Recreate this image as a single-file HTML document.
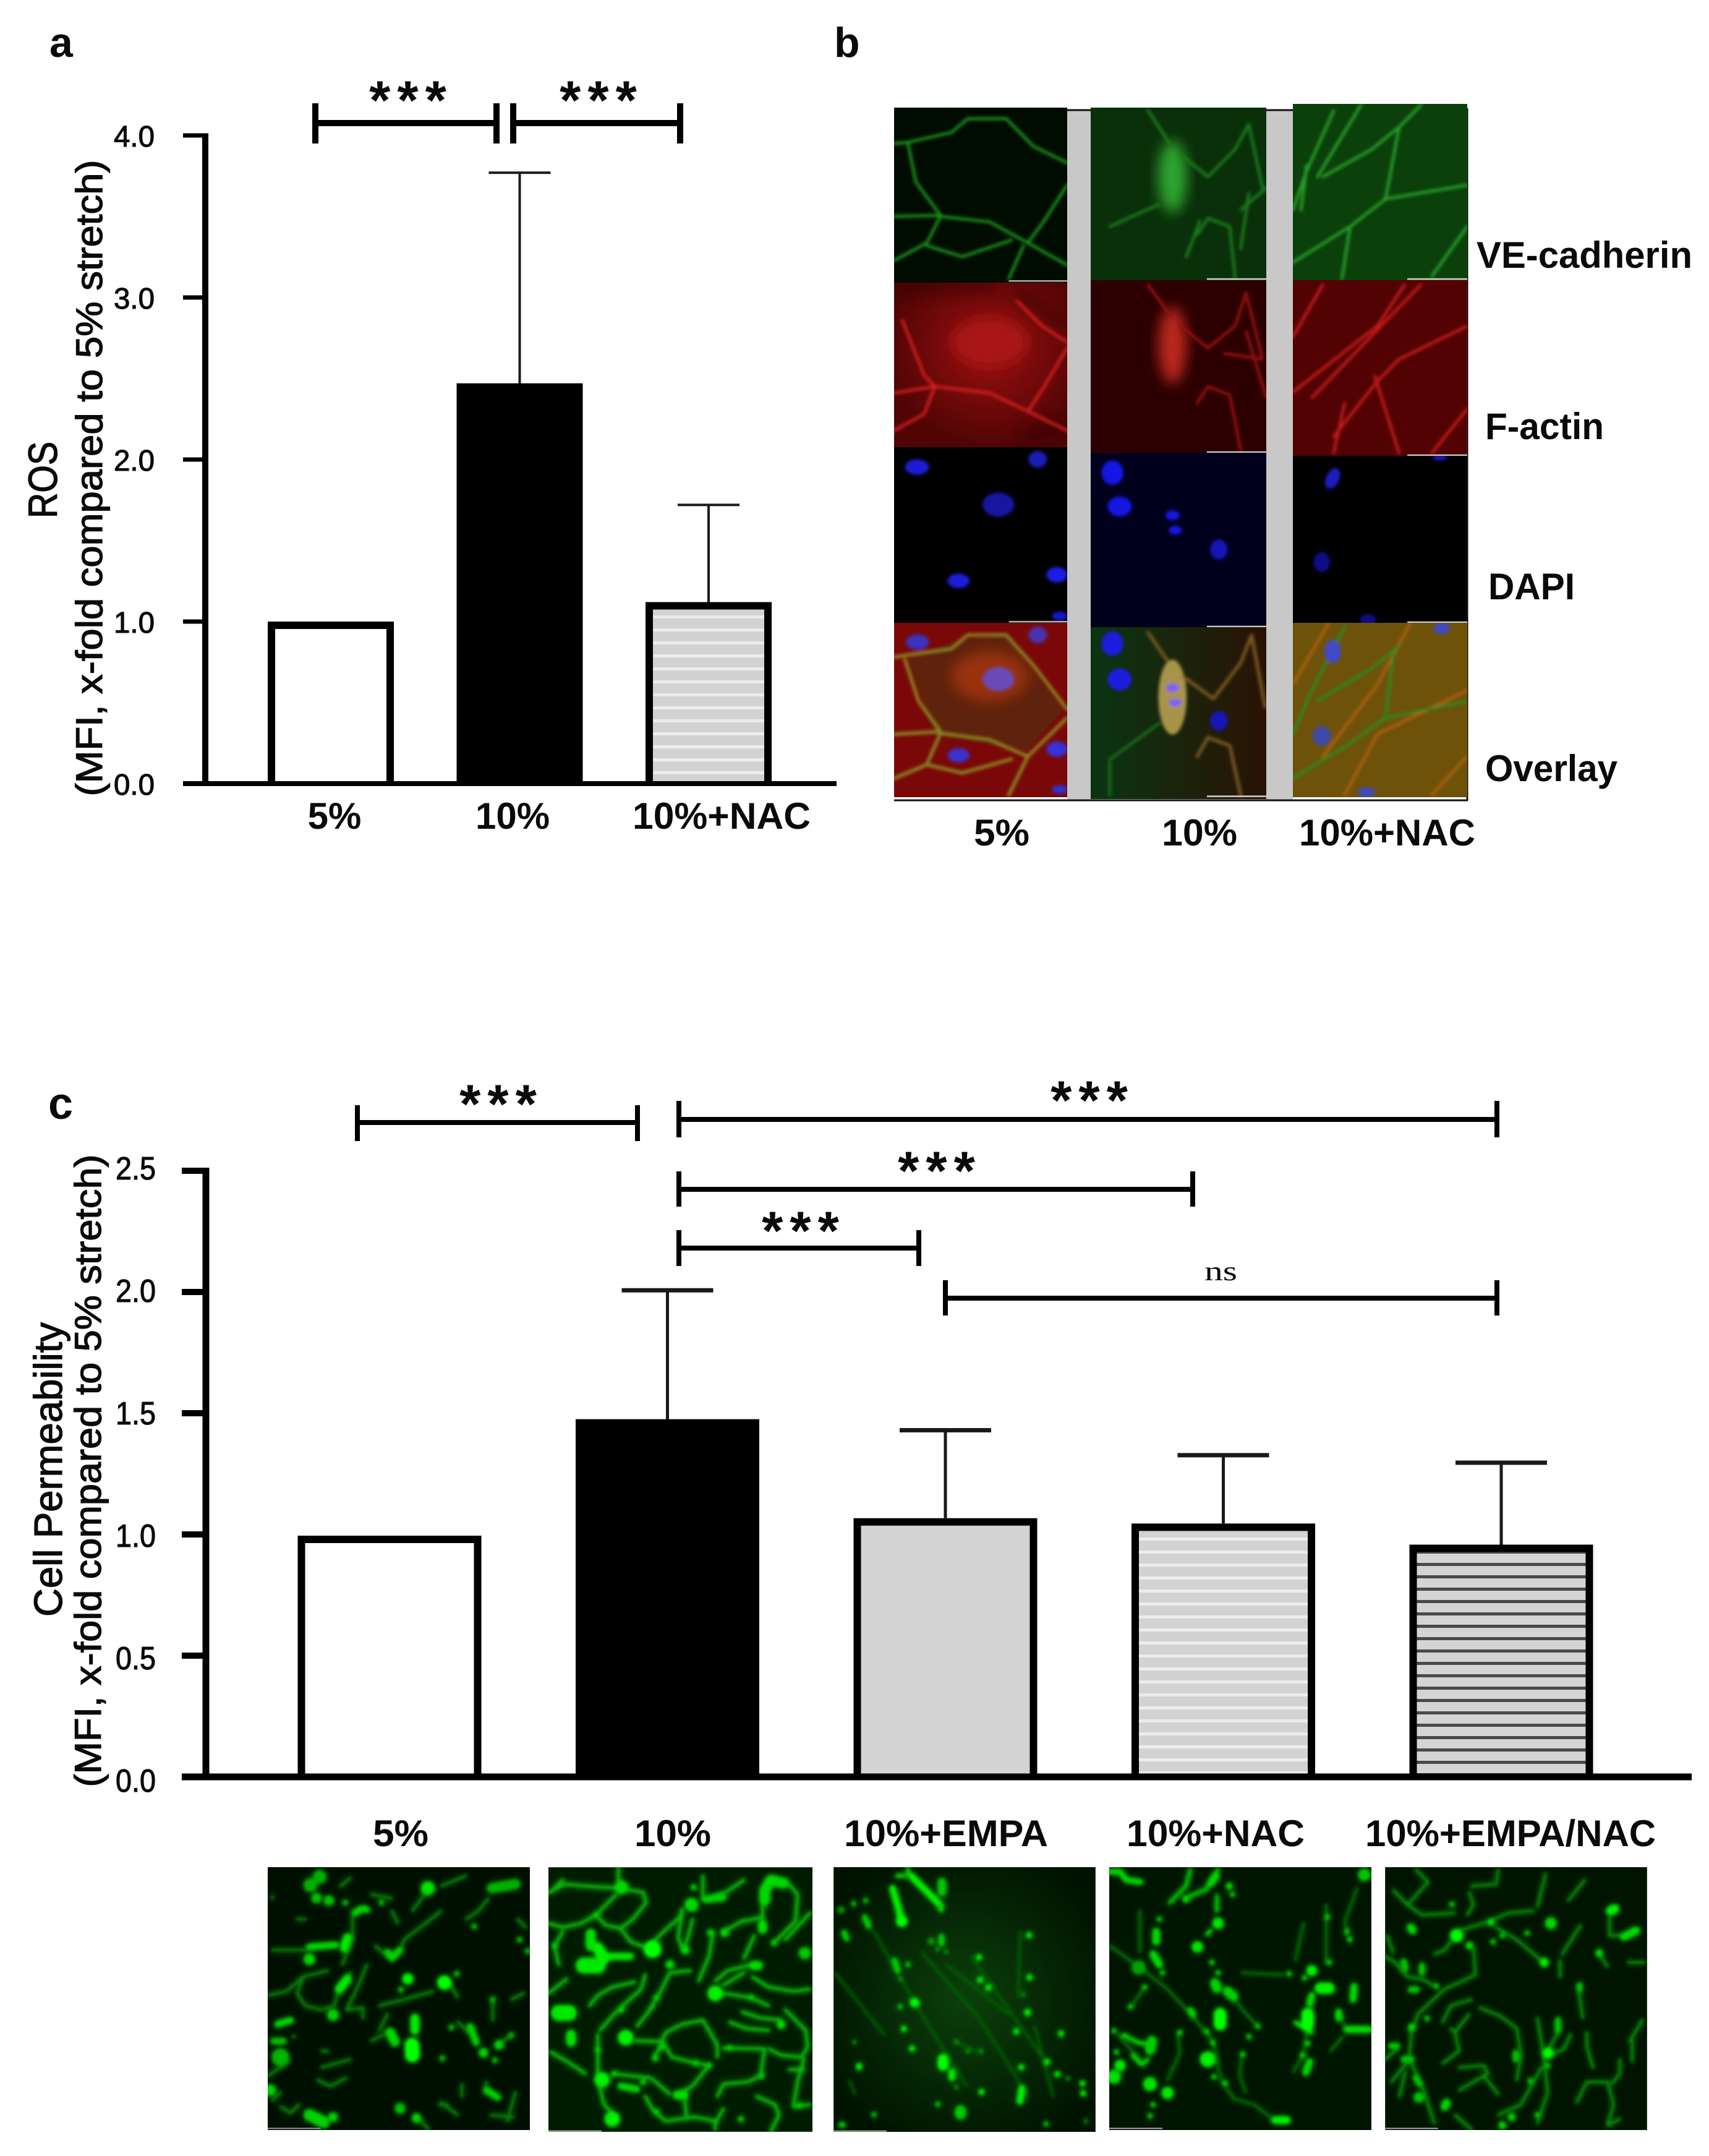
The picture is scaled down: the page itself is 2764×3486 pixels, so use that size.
<!DOCTYPE html>
<html lang="en">
<head>
<meta charset="utf-8">
<title>ROS, junction staining and cell permeability figure</title>
<style>
html,body{margin:0;padding:0;background:#fff;width:2764px;height:3486px;overflow:hidden}
svg text{font-family:"Liberation Sans",sans-serif;fill:#0a0a0a}
.b{font-weight:bold;font-size:60px}
.tick{font-size:50px;stroke:#0a0a0a;stroke-width:1.1}
.ttl{font-size:60px;stroke:#0a0a0a;stroke-width:1.3}
.star{font-weight:bold;font-size:88px;letter-spacing:11px}
.bl{fill:none;stroke:#000;stroke-linecap:round;stroke-linejoin:round}
g.m path{fill:none;stroke-linecap:round;stroke-linejoin:round}
</style>
</head>
<body>
<svg id="fig" xmlns="http://www.w3.org/2000/svg" width="2764" height="3486" viewBox="0 0 2764 3486" style="position:absolute;left:0;top:0">
<defs>
<pattern id="lightStripes" patternUnits="userSpaceOnUse" width="10" height="21"><rect width="10" height="21" fill="#d2d2d2"/><rect y="8" width="10" height="5" fill="#ececec"/></pattern>
<pattern id="darkStripes" patternUnits="userSpaceOnUse" width="10" height="20"><rect width="10" height="20" fill="#d4d4d4"/><rect y="7" width="10" height="5" fill="#4a4a4a"/></pattern>
<filter id="blur" x="-5%" y="-5%" width="110%" height="110%"><feGaussianBlur in="SourceGraphic" stdDeviation="15" result="g"/><feGaussianBlur in="SourceGraphic" stdDeviation="8" result="c"/><feMerge><feMergeNode in="g"/><feMergeNode in="c"/></feMerge></filter>
<filter id="blurL" x="-30%" y="-30%" width="160%" height="160%"><feGaussianBlur stdDeviation="12"/></filter>
<filter id="blurS" x="-5%" y="-5%" width="110%" height="110%"><feGaussianBlur stdDeviation="3"/></filter>
<radialGradient id="g3bg" cx="50%" cy="50%" r="60%"><stop offset="0" stop-color="#0b3f0b"/><stop offset="1" stop-color="#001300"/></radialGradient>
<radialGradient id="a1bg" cx="55%" cy="40%" r="60%"><stop offset="0" stop-color="#9c1010"/><stop offset="1" stop-color="#500404"/></radialGradient>
<linearGradient id="o2bg" x1="0" x2="1"><stop offset="0" stop-color="#0a3512"/><stop offset="1" stop-color="#2a1204"/></linearGradient>
</defs>

<!-- panel letters -->
<text class="b" style="font-size:68px" x="80" y="92">a</text>
<text class="b" style="font-size:68px" x="1349" y="92">b</text>
<text class="b" style="font-size:72px" x="78" y="1809">c</text>

<!-- panel a titles -->
<text class="ttl" style="font-size:66px" transform="rotate(-90 92 776)" x="92" y="776" text-anchor="middle" textLength="124" lengthAdjust="spacingAndGlyphs">ROS</text>
<text class="ttl" transform="rotate(-90 165 773)" x="165" y="773" text-anchor="middle" textLength="1029" lengthAdjust="spacingAndGlyphs">(MFI, x-fold compared to 5% stretch)</text>
<g id="chartA"></g>
<text class="b" x="541" y="1340" text-anchor="middle">5%</text>
<text class="b" x="829" y="1340" text-anchor="middle">10%</text>
<text class="b" x="1167" y="1340" text-anchor="middle" textLength="288" lengthAdjust="spacingAndGlyphs">10%+NAC</text>

<!-- panel a significance -->
<g>
<path class="bl" style="stroke-linecap:butt" stroke-width="10" d="M510 167V232M803 167V232M510 199H803"/>
<text class="star" x="665" y="192" text-anchor="middle">***</text></g>
<g>
<path class="bl" style="stroke-linecap:butt" stroke-width="10" d="M830 167V232M1100 167V232M830 199H1100"/>
<text class="star" x="973" y="192" text-anchor="middle">***</text></g>

<!-- panel b -->
<g id="panelB">
<rect x="1726" y="179" width="38" height="1114" fill="#c8c8c8"/>
<rect x="2048" y="179" width="43" height="1114" fill="#c8c8c8"/>
<path d="M1726 178H1764M2048 178H2091M1446 1294H2374M2373 175V1294" stroke="#111" stroke-width="3" fill="none"/>

<!-- column 1 -->
<svg x="1446" y="174" width="280" height="283" viewBox="75 195 317 317" preserveAspectRatio="none">
<rect x="75" y="195" width="317" height="317" fill="#010c01"/>
<g class="m" filter="url(#blurS)"><path stroke="#1f9a1f" stroke-width="5" d="M75 260L100 258L180 240L210 215L280 215L330 265L392 295M100 258L115 330L160 390L75 392M160 392L250 402L320 440L392 480M320 440L350 400L392 335M160 392L135 440L75 472M135 445L200 465L290 435M312 445L285 505"/></g>
<path d="M285 509H392" stroke="#aaa" stroke-width="3"/></svg>

<svg x="1446" y="457" width="280" height="266" viewBox="75 512 317 298" preserveAspectRatio="none">
<rect x="75" y="512" width="317" height="298" fill="url(#a1bg)"/>
<path fill="none" stroke="#2a0202" stroke-width="14" opacity=".7" filter="url(#blurL)" d="M300 530L392 590M310 790L392 770M75 520H260"/>
<ellipse cx="250" cy="620" rx="70" ry="45" fill="#a81212" filter="url(#blurL)"/>
<g class="m" filter="url(#blurS)"><path stroke="#d82020" stroke-width="5" d="M90 580L130 680L150 700L75 712M150 700L250 712L320 745L392 780M320 745L350 700L392 630M150 700L130 750L75 780M300 545L345 590L392 620"/></g></svg>

<svg x="1446" y="723" width="280" height="284" viewBox="75 810 317 318" preserveAspectRatio="none">
<rect x="75" y="810" width="317" height="318" fill="#000"/>
<g filter="url(#blurS)"><ellipse cx="117" cy="846" rx="22" ry="14" fill="#1c1cd8"/><ellipse cx="338" cy="832" rx="17" ry="15" fill="#1a1ab8"/><ellipse cx="266" cy="914" rx="29" ry="22" fill="#1616a0"/><ellipse cx="193" cy="1052" rx="20" ry="13" fill="#1c1ce0"/><ellipse cx="373" cy="1041" rx="19" ry="14" fill="#1c1ce8"/><ellipse cx="378" cy="1116" rx="14" ry="8" fill="#1818d0"/></g>
<path d="M285 1126H392" stroke="#aaa" stroke-width="3"/></svg>

<svg x="1446" y="1007" width="280" height="282" viewBox="75 1128 317 316" preserveAspectRatio="none">
<rect x="75" y="1128" width="317" height="316" fill="#7a0808"/>
<path d="M100 1195L190 1160L280 1150L385 1285L320 1360L150 1330Z" fill="#5e2008" filter="url(#blurS)"/>
<ellipse cx="250" cy="1225" rx="70" ry="45" fill="#983010" filter="url(#blurL)"/>
<g class="m" filter="url(#blurS)"><path stroke="#8a8a20" stroke-width="6" d="M75 1190L180 1175L210 1150L280 1150L330 1205L392 1285M95 1195L120 1270L160 1325L75 1330M160 1328L250 1340L320 1370L392 1300M320 1370L285 1440M160 1328L135 1385L75 1410M135 1385L200 1400L290 1375"/><ellipse cx="118" cy="1163" rx="21" ry="14" fill="#3a30c0"/><ellipse cx="338" cy="1150" rx="17" ry="15" fill="#4a30b0"/><ellipse cx="266" cy="1230" rx="29" ry="22" fill="#6a48b8"/><ellipse cx="193" cy="1368" rx="20" ry="13" fill="#3a30d0"/><ellipse cx="373" cy="1357" rx="19" ry="14" fill="#3830d8"/><ellipse cx="378" cy="1430" rx="14" ry="8" fill="#3030d0"/></g></svg>

<!-- column 2 -->
<svg x="1764" y="174" width="284" height="279" viewBox="435 195 322 312" preserveAspectRatio="none">
<rect x="435" y="195" width="322" height="312" fill="#0a300a"/>
<ellipse cx="585" cy="320" rx="26" ry="65" fill="#2ea42e" filter="url(#blurL)"/>
<g class="m" filter="url(#blurS)"><path stroke="#1e801e" stroke-width="5" d="M540 200L580 260M600 280L650 320L700 270L725 225L750 340M470 410L560 370M635 400L620 440L610 465M630 425L650 395L690 410L700 505M710 380L757 340M725 350L710 450"/></g>
<path d="M648 505H757" stroke="#ccc" stroke-width="3"/></svg>

<svg x="1764" y="453" width="284" height="279" viewBox="435 507 322 313" preserveAspectRatio="none">
<rect x="435" y="507" width="322" height="313" fill="#2c0000"/>
<ellipse cx="585" cy="625" rx="26" ry="70" fill="#b8281a" filter="url(#blurL)"/>
<g class="m" filter="url(#blurS)"><path stroke="#8c1010" stroke-width="6" d="M540 515L580 570M600 590L650 630L700 590L720 530L750 650M630 730L650 700L690 715L710 815M680 640L750 650M720 600L757 720"/></g>
<path d="M648 819H757" stroke="#ccc" stroke-width="3"/></svg>

<svg x="1764" y="732" width="284" height="282" viewBox="435 820 322 315" preserveAspectRatio="none">
<rect x="435" y="820" width="322" height="315" fill="#00001c"/>
<g fill="#1414e4" filter="url(#blurS)"><ellipse cx="475" cy="856" rx="20" ry="22"/><ellipse cx="488" cy="917" rx="22" ry="18"/><ellipse cx="585" cy="933" rx="13" ry="9"/><ellipse cx="590" cy="960" rx="12" ry="8"/><ellipse cx="670" cy="995" rx="16" ry="18" fill="#1414b8"/></g>
<path d="M648 1134H757" stroke="#ccc" stroke-width="3"/></svg>

<svg x="1764" y="1014" width="284" height="278" viewBox="435 1135 322 312" preserveAspectRatio="none">
<rect x="435" y="1135" width="322" height="312" fill="url(#o2bg)"/>
<g class="m" filter="url(#blurS)"><ellipse cx="585" cy="1262" rx="26" ry="68" fill="#a89448"/><path stroke="#7a5a20" stroke-width="6" d="M540 1145L575 1195M605 1225L660 1265L710 1200L730 1150L755 1280M630 1370L650 1335L690 1350L710 1440"/><path stroke="#1a701a" stroke-width="5" d="M470 1375L560 1310M470 1380V1440"/><ellipse cx="475" cy="1165" rx="20" ry="22" fill="#1a1ae0"/><ellipse cx="488" cy="1230" rx="22" ry="20" fill="#1a1ae0"/><ellipse cx="670" cy="1305" rx="16" ry="18" fill="#1818b8"/><ellipse cx="585" cy="1245" rx="12" ry="8" fill="#8060f0"/><ellipse cx="590" cy="1272" rx="12" ry="7" fill="#8060f0"/></g>
<path d="M648 1442H757" stroke="#ccc" stroke-width="3"/></svg>

<!-- column 3 -->
<svg x="2091" y="168" width="282" height="285" viewBox="805 188 320 319" preserveAspectRatio="none">
<rect x="805" y="188" width="320" height="319" fill="#0b400b"/>
<g class="m" filter="url(#blurS)"><path stroke="#2aa62a" stroke-width="5" d="M805 380L830 310L880 200M850 320L930 190M860 320L950 270L1000 230L1040 190M1000 230L975 360L910 410L805 475M975 360L1125 335M910 410L895 505M1125 410L1060 500M830 300L820 380"/></g>
<path d="M1015 505H1125" stroke="#ccc" stroke-width="3"/></svg>

<svg x="2091" y="453" width="282" height="284" viewBox="805 507 320 318" preserveAspectRatio="none">
<rect x="805" y="507" width="320" height="318" fill="#520202"/>
<g class="m" filter="url(#blurS)"><path stroke="#cc1e1e" stroke-width="5" d="M805 610L860 515M805 710L960 590L1010 515M840 720L1040 515M880 790L960 690L1000 650L1125 590M900 730L880 820M1125 740L1060 820M955 680L1000 820"/></g>
<path d="M1015 824H1125" stroke="#ccc" stroke-width="3"/></svg>

<svg x="2091" y="737" width="282" height="270" viewBox="805 825 320 303" preserveAspectRatio="none">
<rect x="805" y="825" width="320" height="303" fill="#000"/>
<g filter="url(#blurS)"><ellipse cx="878" cy="866" rx="12" ry="20" transform="rotate(25 878 866)" fill="#1a1ac0"/><ellipse cx="858" cy="1018" rx="15" ry="18" fill="#101088"/><ellipse cx="1075" cy="828" rx="13" ry="5" fill="#1a1ac0"/><ellipse cx="943" cy="1122" rx="15" ry="9" fill="#101088"/></g>
<path d="M1015 1127H1125" stroke="#ccc" stroke-width="3"/></svg>

<svg x="2091" y="1007" width="282" height="282" viewBox="805 1128 320 316" preserveAspectRatio="none">
<rect x="805" y="1128" width="320" height="316" fill="#6e520a"/>
<g class="m" filter="url(#blurS)"><path stroke="#b06010" stroke-width="5" d="M805 1240L870 1130M860 1370L960 1240L1020 1130M900 1440L960 1330L1125 1250M1125 1370L1060 1440"/><path stroke="#2a8a20" stroke-width="5" d="M805 1330L840 1250L900 1135M850 1270L950 1210L1000 1170M975 1300L990 1180M975 1300L905 1350L805 1410M975 1300L1125 1270"/><ellipse cx="878" cy="1180" rx="15" ry="21" fill="#4048c8"/><ellipse cx="858" cy="1333" rx="17" ry="18" fill="#4048a8"/><ellipse cx="1078" cy="1138" rx="15" ry="10" fill="#4048c8"/><ellipse cx="940" cy="1435" rx="16" ry="9" fill="#4048c0"/></g></svg>
</g>

<text class="b" x="2388" y="433" textLength="349" lengthAdjust="spacingAndGlyphs">VE-cadherin</text>
<text class="b" x="2402" y="710" textLength="192" lengthAdjust="spacingAndGlyphs">F-actin</text>
<text class="b" x="2407" y="969" textLength="140" lengthAdjust="spacingAndGlyphs">DAPI</text>
<text class="b" x="2402" y="1263" textLength="214" lengthAdjust="spacingAndGlyphs">Overlay</text>
<text class="b" x="1575" y="1367" textLength="90" lengthAdjust="spacingAndGlyphs">5%</text>
<text class="b" x="1879" y="1367" textLength="122" lengthAdjust="spacingAndGlyphs">10%</text>
<text class="b" x="2101" y="1367" textLength="285" lengthAdjust="spacingAndGlyphs">10%+NAC</text>

<!-- panel c titles -->
<text class="ttl" style="font-size:64px" transform="rotate(-90 100 2376)" x="100" y="2376" text-anchor="middle" textLength="476" lengthAdjust="spacingAndGlyphs">Cell Permeability</text>
<text class="ttl" transform="rotate(-90 163 2378)" x="163" y="2378" text-anchor="middle" textLength="1023" lengthAdjust="spacingAndGlyphs">(MFI, x-fold compared to 5% stretch)</text>
<g id="chartC"></g>

<!-- panel c significance -->
<g><path class="bl" style="stroke-linecap:butt" stroke-width="8" d="M578 1787V1845M1031 1787V1845M578 1815H1031"/><text class="star" x="811" y="1815" text-anchor="middle">***</text></g>
<g><path class="bl" style="stroke-linecap:butt" stroke-width="8" d="M1098 1780V1839M2421 1780V1839M1098 1810H2421"/><text class="star" x="1767" y="1809" text-anchor="middle">***</text></g>
<g><path class="bl" style="stroke-linecap:butt" stroke-width="8" d="M1098 1894V1951M1929 1894V1951M1098 1923H1929"/><text class="star" x="1520" y="1923" text-anchor="middle">***</text></g>
<g><path class="bl" style="stroke-linecap:butt" stroke-width="8" d="M1098 1989V2047M1486 1989V2047M1098 2018H1486"/><text class="star" x="1300" y="2020" text-anchor="middle">***</text></g>
<g><path class="bl" style="stroke-linecap:butt" stroke-width="8" d="M1529 2070V2127M2421 2070V2127M1529 2099H2421"/><text x="1936" y="2054" dx="12" dy="16" textLength="53" lengthAdjust="spacingAndGlyphs" style='font-family:"Liberation Serif",serif;font-size:44px'>ns</text></g>

<text class="b" x="603" y="2985" textLength="90" lengthAdjust="spacingAndGlyphs">5%</text>
<text class="b" x="1026" y="2985" textLength="124" lengthAdjust="spacingAndGlyphs">10%</text>
<text class="b" x="1365" y="2985" textLength="330" lengthAdjust="spacingAndGlyphs">10%+EMPA</text>
<text class="b" x="1822" y="2985" textLength="288" lengthAdjust="spacingAndGlyphs">10%+NAC</text>
<text class="b" x="2208" y="2985" textLength="470" lengthAdjust="spacingAndGlyphs">10%+EMPA/NAC</text>

<!-- bottom micrographs -->
<svg x="433" y="3019" width="424" height="425" viewBox="38 88 1272 1275">
<rect x="38" y="88" width="1272" height="1275" fill="#001000"/>
<g class="m" filter="url(#blur)">
<path stroke="#0c7a0c" stroke-width="13" d="M40 710L130 690L210 620L330 590M210 620L180 700L220 760L300 780L360 760L400 640L440 600M60 490H230M450 300V430L400 560M700 440L830 340L880 300M560 470L620 520L680 490L700 440M520 560L470 680L420 780L500 770V820M580 760L700 730L840 690M920 650L960 720M960 840L1050 920M1220 900L1160 950M300 1060L440 1020M280 1120L340 1150L420 1110M100 1250L150 1280L190 1240M880 1230L960 1290M1240 1180L1200 1320M760 1300L820 1360M40 1100L140 1030M1250 340L1290 380M1110 240L1060 300L1000 340M880 180L1000 130M800 220L740 300M640 300L670 360M540 220L640 240M1130 730L1130 830M1100 1130L1090 1180M980 1140V1200M1280 700L1220 730M390 180L440 140M600 900L540 930M620 800L580 880M60 230V240M180 340H220M100 1180L60 1220M1120 1290L1230 1300M870 1240L910 1240M330 980H300M160 910H170"/>
<path stroke="#00b000" stroke-width="60" d="M245 175h0M290 135h0"/>
<path stroke="#00c000" stroke-width="45" d="M335 250h0M275 238h0M680 1258h0"/>
<path stroke="#00e000" stroke-width="62" d="M815 190h0"/>
<path stroke="#00b000" stroke-width="42" d="M1125 190L1240 170"/>
<path stroke="#00ff00" stroke-width="62" d="M895 648h0M738 950L740 1000"/>
<path stroke="#00f000" stroke-width="48" d="M718 630h0"/>
<path stroke="#00e800" stroke-width="36" d="M752 820V880M385 680L425 630M410 480L425 430"/>
<path stroke="#00b400" stroke-width="78" d="M100 1010h0"/>
<path stroke="#00d000" stroke-width="50" d="M50 1170h0M240 1290L310 1325M240 535h0M355 805h0"/>
<path stroke="#00d400" stroke-width="26" d="M240 475L370 465M465 310Q495 280 520 295M85 850L150 830M1020 860L1050 940M1100 1170L1155 1205M620 500L640 530L680 490"/>
<path stroke="#00d400" stroke-width="40" d="M632 890L655 935M1085 988h0M1160 950h0M355 1300h0M760 1305h0"/>
<path stroke="#00c000" stroke-width="25" d="M1140 1025h0M1220 903h0M885 1015h0M955 605h0M685 682h0M1040 375h0M1260 440h0M590 260h0M1300 495h0M1130 730h0M930 865h0M65 932H115M415 260h0"/>
</g>
<path d="M38 1355H295" stroke="#999" stroke-width="6"/>
</svg>

<svg x="887" y="3019" width="427" height="428" viewBox="50 88 1282 1284">
<rect x="50" y="88" width="1282" height="1284" fill="#001c00"/>
<g class="m" filter="url(#blur)">
<path stroke="#0cb40c" stroke-width="14" d="M50 210L130 170L240 180L400 190L510 210L525 260L460 340L400 385L330 370L280 320L330 270L380 220M280 320L210 360L120 380L50 360M120 400L80 470L100 560M400 385L450 450L530 480M530 480L620 390L690 330L700 290M700 300L680 430L700 480M750 340L730 420L710 480M810 240L910 210L1000 150M850 400L830 520L780 640M1000 350L1090 330M900 400L1000 345M1050 420L1000 530M1090 360V280L1110 180M1200 440L1320 310M1140 460L1250 350L1260 220L1200 150M50 700L140 630M250 760L290 710L360 670L470 645M300 880L380 790L410 770M400 770L500 680L520 610M540 780L580 720L640 600L740 590M480 860L560 760M290 900V1090M60 985L140 1030L230 1090M470 930L600 935L620 890L700 850L800 830L870 950V1010M600 930L650 1010L770 1040L830 1050L750 1150L680 1190M560 1015L600 950M360 1090L540 1110L560 1120L640 1190M300 1160L320 1240L380 1300M520 1200L560 1270L620 1320L760 1300L860 1320M710 1200L720 1290M870 1200L900 1140L1020 1130L1080 1100L1100 970L900 965M1120 970L1180 1000L1280 1010L1310 960L1300 880L1200 780M1060 1200L1150 1240L1170 1290L1130 1370M900 1260L860 1330V1360M930 840L1010 870L1120 880M990 790L1080 820L1180 830M1040 620L1120 670L1240 690L1320 680M900 700L1030 720L1120 760M860 640L920 590L1040 560M900 660L1000 600M1320 1240L1240 1250L1260 1130L1290 1020M1220 1070H1290M390 90V180M120 150L60 210M800 130V240"/>
<path stroke="#00e800" stroke-width="68" d="M220 565H290M100 795H150"/>
<path stroke="#00f000" stroke-width="48" d="M290 480L320 530"/>
<path stroke="#00e800" stroke-width="26" d="M340 520H450"/>
<path stroke="#00e000" stroke-width="40" d="M255 410V470M160 900V935"/>
<path stroke="#00d800" stroke-width="60" d="M405 185h0M745 270h0"/>
<path stroke="#00ff00" stroke-width="78" d="M555 485h0"/>
<path stroke="#00d800" stroke-width="44" d="M1100 200L1130 150L1190 165M1100 200V250"/>
<path stroke="#00f000" stroke-width="68" d="M425 915h0M310 1120h0M360 1310h0M860 700h0"/>
<path stroke="#00c800" stroke-width="52" d="M1295 505h0"/>
<path stroke="#00dc00" stroke-width="36" d="M1045 565H1070M1090 365V390M905 405h0M640 560h0M715 490h0M675 1193H710M1180 852h0"/>
<path stroke="#00d400" stroke-width="26" d="M810 245L900 235M1035 720h0M575 720h0M280 320h0M405 780h0M570 1015h0M765 1038h0M830 1050h0M835 405h0M755 185h0M1270 1245h0M370 1090h0M400 1150L480 1165M510 1130h0M600 960h0M930 965h0M575 1275h0M985 1310h0M1085 1100h0M290 975h0M80 470h0M1145 455h0"/>
</g>
<path d="M50 1368H308" stroke="#aaa" stroke-width="6"/>
</svg>

<svg x="1348" y="3019" width="424" height="428" viewBox="54 88 1271 1284">
<rect x="54" y="88" width="1271" height="1284" fill="url(#g3bg)"/>
<g class="m" filter="url(#blur)">
<path stroke="#0c600c" stroke-width="9" d="M250 400L480 800L700 1150M480 500L760 820L1000 1200M600 560L900 800M720 520L1060 1000M130 1120L160 1190M960 400L950 720M1030 860L1120 1200M640 930L760 990M60 600L300 900"/>
<path stroke="#00f000" stroke-width="26" d="M340 190L370 290L385 360M430 130L500 200L570 270"/>
<path stroke="#00ff00" stroke-width="48" d="M385 350h0"/>
<path stroke="#00e000" stroke-width="14" d="M415 95V120M400 130H360"/>
<path stroke="#00c800" stroke-width="34" d="M580 160V210"/>
<path stroke="#00d000" stroke-width="22" d="M575 270V295M205 330L225 375M105 405L118 435M578 425V460M350 540L365 590M210 250h0M152 265h0M415 560h0M378 765h0M250 1288h0M90 1338H100M560 1238h0M1085 1333h0"/>
<path stroke="#009800" stroke-width="30" d="M528 447h0M90 295h0"/>
<path stroke="#00a800" stroke-width="18" d="M558 485h0M600 498h0M378 630h0M975 705h0M155 937h0M650 1155h0M1278 1320h0M705 980h0M770 980h0M650 935h0M1190 1112h0"/>
<path stroke="#00ff00" stroke-width="36" d="M445 745H450"/>
<path stroke="#00f000" stroke-width="26" d="M395 872h0M760 525h0M765 635h0M805 672h0M1003 418h0M1005 622h0M995 790V795M940 885h0M1158 895h0M435 968h0M178 1052V1058M628 1080V1110M1090 1032h0M965 1058h0M1140 1092h0M1262 1137h0M1265 1185h0M772 1178h0M968 1160L958 1225"/>
<path stroke="#00ff00" stroke-width="44" d="M585 1020V1050"/>
<path stroke="#00c800" stroke-width="48" d="M670 1270V1285"/>
</g>
<path d="M54 1368H312" stroke="#aaa" stroke-width="6"/>
</svg>

<svg x="1794" y="3019" width="424" height="425" viewBox="57 88 1272 1275">
<rect x="57" y="88" width="1272" height="1275" fill="#001500"/>
<g class="m" filter="url(#blur)">
<path stroke="#0c700c" stroke-width="11" d="M205 300V500M60 470L130 520L200 570L340 680L460 810L560 930L600 1120L660 1210L760 1240L840 1300M640 700L730 810L780 860M700 1000L690 1100L720 1180M1040 720L1000 1000L950 1080M1190 910L1130 980M1110 270V550M1260 190L1200 350L1220 440M1180 800L1200 870M160 770L230 670M100 900L220 1040M1000 360L960 540M700 600L900 610M390 890L400 990L340 1120M580 220L575 300"/>
<path stroke="#00d800" stroke-width="22" d="M60 110H110L140 150L210 160"/>
<path stroke="#00c800" stroke-width="54" d="M1295 125h0"/>
<path stroke="#00c000" stroke-width="16" d="M350 260L430 180L450 100M420 240L530 195M530 190L585 100M580 230V300"/>
<path stroke="#00d800" stroke-width="30" d="M285 400V450M575 130L550 165M430 243h0M270 510L300 560M640 180h0"/>
<path stroke="#00e000" stroke-width="22" d="M300 340h0M655 220h0M315 600h0M555 550h0M585 600h0M230 670h0M160 765h0M80 882h0M130 905h0M92 985h0M400 890h0M450 780L465 805M530 885h0M560 940h0M705 995h0M565 1105h0M620 1135h0M270 1240h0M255 1295h0M1115 330h0M1210 400h0M1225 440h0M1125 550h0M930 605h0M1005 625h0M1020 943h0M995 1000h0M778 860h0M735 910h0"/>
<path stroke="#00e000" stroke-width="14" d="M530 415L550 395M130 905L200 940L240 945M170 1000L215 1045L245 1020"/>
<path stroke="#00e800" stroke-width="48" d="M585 360h0M485 475h0M110 1050h0"/>
<path stroke="#00a000" stroke-width="62" d="M200 575h0"/>
<path stroke="#00d000" stroke-width="40" d="M570 650L580 675M630 690L660 715M265 930L255 975"/>
<path stroke="#00ff00" stroke-width="52" d="M595 800V850"/>
<path stroke="#00f000" stroke-width="68" d="M535 1020h0"/>
<path stroke="#00e000" stroke-width="60" d="M80 1105h0M255 1140h0"/>
<path stroke="#00e800" stroke-width="52" d="M340 1183h0"/>
<path stroke="#00f000" stroke-width="30" d="M860 1315H920"/>
<path stroke="#00f000" stroke-width="46" d="M1040 590h0M1080 675H1125"/>
<path stroke="#00dc00" stroke-width="26" d="M1245 665L1240 730M1040 710L1030 750M1170 790V820M1210 875H1320M1030 1030L1010 1085"/>
<path stroke="#00ff00" stroke-width="52" d="M1020 800V850"/>
<path stroke="#00ff00" stroke-width="14" d="M960 840L1040 890"/>
</g>
<path d="M57 1355H315" stroke="#aaa" stroke-width="6"/>
</svg>

<svg x="2240" y="3019" width="424" height="425" viewBox="61 88 1271 1275">
<rect x="61" y="88" width="1271" height="1275" fill="#001400"/>
<g class="m" filter="url(#blur)">
<path stroke="#0c8c0c" stroke-width="12" d="M210 100L270 160L170 270L100 200M170 270L240 320L400 310M480 180L600 170L610 100M470 210L490 270L460 320M410 400L570 350L660 310L780 300M800 280L820 200L840 120M600 380L700 440L830 550M60 520L110 550L170 620L240 630L310 670M300 510L350 490L380 450M490 480L500 610L350 680L220 800L200 870M340 840L380 760L480 730M380 870L400 890L470 800M520 770L620 810L700 870L720 1000L700 1120M400 890L420 980L340 1040M420 1060L540 1050L560 1090L420 1170M540 1100L610 1190M180 1020L240 1150L300 1330M180 1020L90 1130M160 1080L130 1200M190 880L180 1000M800 820L830 1000L850 1180L800 1330M900 820V890L850 980M960 900L930 970L860 1000M720 1240L820 1060M1040 890V960L1070 1060M1000 680L1020 820M990 1230L1040 1130H1140L1170 1240L1140 1340M1200 1020V1090L1160 1140M1260 930V1030M1310 830L1250 930M920 510L1010 370M1140 570L1100 510M1150 330V420L1220 420M1030 150L950 250M1240 550H1320M910 540V620M400 1290L480 1360M610 1290L720 1240M1200 1310L1140 1340M70 420L100 500M60 1020L120 970"/>
<path stroke="#00f800" stroke-width="58" d="M408 420h0"/>
<path stroke="#00d800" stroke-width="50" d="M865 360h0"/>
<path stroke="#00f000" stroke-width="38" d="M833 550h0M1175 290L1155 300"/>
<path stroke="#00ff00" stroke-width="46" d="M852 990h0"/>
<path stroke="#00d800" stroke-width="32" d="M1280 395L1220 425M185 380L195 395M470 468h0M575 355h0M190 865h0M360 1230L350 1250M630 1340h0M675 1300h0M1100 505h0"/>
<path stroke="#00c400" stroke-width="44" d="M225 1205h0"/>
<path stroke="#00c800" stroke-width="24" d="M385 268h0M750 408h0M630 420h0M585 450h0M310 665h0M185 682H215M240 565V600M150 545L160 580M1005 660V680M695 990V1020M765 1125h0M90 955H120M150 1020H190M210 1110L230 1140M850 1050h0M900 880V830M800 1290h0M265 822h0"/>
</g>
<path d="M61 1355H318" stroke="#aaa" stroke-width="6"/>
</svg>

<script>
// ---- panel a data ----
const rosCategories = ['5%', '10%', '10%+NAC'];
const rosValues = [1.0, 2.47, 1.12];
const rosErrors = [0, 1.30, 0.60];
const rosTicks = [0, 1, 2, 3, 4];
const rosTickLabels = ['0.0', '1.0', '2.0', '3.0', '4.0'];
// ---- panel c data ----
const permCategories = ['5%', '10%', '10%+EMPA', '10%+NAC', '10%+EMPA/NAC'];
const permValues = [0.995, 1.475, 1.067, 1.045, 0.958];
const permErrors = [0, 0.532, 0.363, 0.282, 0.338];
const permTicks = [0, 0.5, 1, 1.5, 2, 2.5];
const permTickLabels = ['0.0', '0.5', '1.0', '1.5', '2.0', '2.5'];

const NS = 'http://www.w3.org/2000/svg';
function mk(parent, tag, attrs) {
  const el = document.createElementNS(NS, tag);
  for (const k in attrs) el.setAttribute(k, attrs[k]);
  parent.appendChild(el);
  return el;
}
// axis functions
function yRos(v) { return 1267 - v * 262; }
function xRos(i) { return 535 + i * 305.5; }
function yPerm(v) { return 2873 - v * 392; }
function xPerm(i) { return 630 + i * 449.5; }
function slug(s) { return s.toLowerCase().replace(/%/g, '').replace(/[^a-z0-9]+/g, '-'); }

const rosFills = { '5%': '#fff', '10%': '#000', '10%+NAC': 'url(#lightStripes)' };
const permFills = { '5%': '#fff', '10%': '#000', '10%+EMPA': '#d3d3d3', '10%+NAC': 'url(#lightStripes)', '10%+EMPA/NAC': 'url(#darkStripes)' };

function drawChart(root, prefix, cats, vals, errs, fills, xf, yf, barW, sw, capHalf, errW, capW) {
  cats.forEach(function (c, i) {
    const cx = xf(i), top = yf(vals[i]), base = yf(0);
    if (errs[i] > 0) {
      const et = yf(vals[i] + errs[i]);
      const stem = mk(root, 'line', { x1: cx, x2: cx, y1: top, y2: et, stroke: '#1a1a1a', 'stroke-width': errW });
      
      
      const cap = mk(root, 'line', { x1: cx - capHalf, x2: cx + capHalf, y1: et, y2: et, stroke: '#1a1a1a', 'stroke-width': capW });
      
      
    }
    const bar = mk(root, 'rect', { x: cx - barW / 2, y: top, width: barW, height: base - top, fill: fills[c] });
    
    
    const outline = mk(root, 'path', { d: 'M' + (cx - barW / 2 + sw / 2) + ' ' + base + 'V' + (top + sw / 2) + 'H' + (cx + barW / 2 - sw / 2) + 'V' + base, fill: 'none', stroke: '#000', 'stroke-width': sw });
    
    
  });
}
function drawAxes(root, prefix, ticks, labels, yf, axisX, axisW, tickLeft, tickW, xEnd, lblRight, lblW, lblSize, offset, baseW) {
  const ya = mk(root, 'line', { x1: axisX, x2: axisX, y1: yf(ticks[ticks.length - 1]) - tickW / 2, y2: yf(0), stroke: '#000', 'stroke-width': axisW });
  
  
  const xa = mk(root, 'line', { x1: tickLeft, x2: xEnd, y1: yf(0), y2: yf(0), stroke: '#000', 'stroke-width': baseW });
  
  
  ticks.forEach(function (t, i) {
    const ln = mk(root, 'line', { x1: tickLeft, x2: axisX, y1: yf(t), y2: yf(t), stroke: '#000', 'stroke-width': tickW });
    
    
    const tx = mk(root, 'text', { x: lblRight - lblW, y: yf(t) + offset(t), class: 'tick', textLength: lblW, lengthAdjust: 'spacingAndGlyphs' });
    tx.style.fontSize = lblSize + 'px';
    tx.textContent = labels[i];
    
    
  });
}
const chartA = document.getElementById('chartA');
const chartC = document.getElementById('chartC');
drawChart(chartA, 'ros', rosCategories, rosValues, rosErrors, rosFills, xRos, yRos, 204, 12, 50, 4, 4);
drawAxes(chartA, 'ros', rosTicks, rosTickLabels, yRos, 332, 10, 296, 7, 1353, 250, 66, 48, function () { return 18; }, 8);
drawChart(chartC, 'permeability', permCategories, permValues, permErrors, permFills, xPerm, yPerm, 297, 12, 74, 5, 7);
drawAxes(chartC, 'permeability', permTicks, permTickLabels, yPerm, 333, 11, 294, 10, 2736, 252, 65, 52, function (t) { return 14 + (2.5 - t) * 4; }, 11);
</script>
</svg>
</body>
</html>
